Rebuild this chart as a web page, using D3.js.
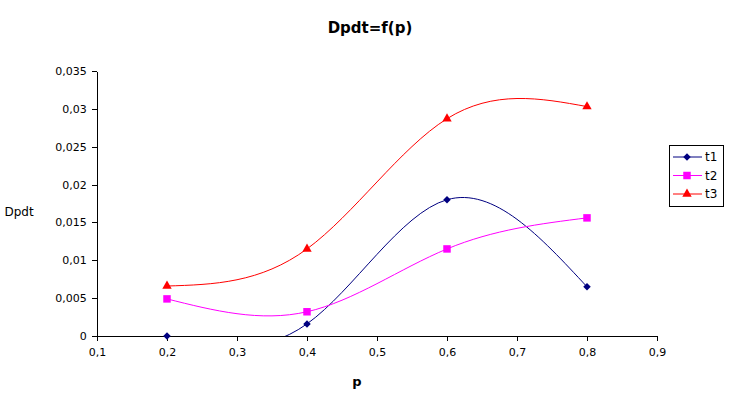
<!DOCTYPE html>
<html>
<head>
<meta charset="utf-8">
<script src="https://cdn.jsdelivr.net/npm/d3@7"></script>
<style>
  body { margin: 0; background: #fff; }
  text { font-family: "DejaVu Sans", sans-serif; fill: #000; }
</style>
</head>
<body>
<div class="chart"></div>
<script>
const pValues = [0.2, 0.4, 0.6, 0.8];
const t1 = [0, 0.0016, 0.0180, 0.0065];
const t2 = [0.0049, 0.0032, 0.0115, 0.0156];
const t3 = [0.0066, 0.0115, 0.0287, 0.0303];
const seriesNames = ["t1", "t2", "t3"];
const seriesColors = ["#000080", "#FF00FF", "#FF0000"];
const xTicks = [0.1, 0.2, 0.3, 0.4, 0.5, 0.6, 0.7, 0.8, 0.9];
const yTicks = [0, 0.005, 0.01, 0.015, 0.02, 0.025, 0.03, 0.035];

const width = 741, height = 396;
const plot = { left: 97, right: 657, top: 71, bottom: 336 };
const fmt = (d) => String(d).replace(".", ",");

const x = d3.scaleLinear().domain([0.1, 0.9]).range([plot.left, plot.right]);
const y = d3.scaleLinear().domain([0, 0.035]).range([plot.bottom, plot.top]);

const svg = d3.select(".chart").append("svg")
  .attr("width", width)
  .attr("height", height);

svg.append("defs").append("clipPath")
  .attr("id", "plotClip")
  .append("rect")
  .attr("x", plot.left)
  .attr("y", plot.top)
  .attr("width", plot.right - plot.left)
  .attr("height", plot.bottom - plot.top);

// title + axis labels
svg.append("text")
  .attr("x", 370).attr("y", 33)
  .attr("text-anchor", "middle")
  .style("font-size", "15px").style("font-weight", "bold")
  .text("Dpdt=f(p)");

svg.append("text")
  .attr("x", 357).attr("y", 386)
  .attr("text-anchor", "middle")
  .style("font-size", "13px").style("font-weight", "bold")
  .text("p");

svg.append("text")
  .attr("x", 19).attr("y", 216)
  .attr("text-anchor", "middle")
  .style("font-size", "12px")
  .text("Dpdt");

// axes
const xAxis = d3.axisBottom(x).tickValues(xTicks).tickFormat(fmt).tickSize(5).tickSizeOuter(0);
const yAxis = d3.axisLeft(y).tickValues(yTicks).tickFormat(fmt).tickSize(5).tickSizeOuter(0);

const gx = svg.append("g")
  .attr("transform", `translate(0,${plot.bottom})`)
  .call(xAxis);
gx.selectAll("text").attr("dy", "1.1em").style("font-size", "11px");

const gy = svg.append("g")
  .attr("transform", `translate(${plot.left},0)`)
  .call(yAxis);
gy.selectAll("text").attr("dx", "-0.2em").style("font-size", "11px");

svg.selectAll(".domain, .tick line").attr("stroke", "#000").attr("shape-rendering", "crispEdges");

// series - natural cubic spline, like the source chart's smoothing
const allSeries = [t1, t2, t3];
const line = d3.line()
  .x((d, i) => x(pValues[i]))
  .y((d) => y(d))
  .curve(d3.curveNatural);

const symbols = [d3.symbolDiamond2, d3.symbolSquare, d3.symbolTriangle];
const symbolSizes = [36, 56, 38];

allSeries.forEach((vals, s) => {
  svg.append("path")
    .datum(vals)
    .attr("clip-path", "url(#plotClip)")
    .attr("fill", "none")
    .attr("stroke", seriesColors[s])
    .attr("stroke-width", 1)
    .attr("d", line);

  svg.selectAll(`.mark${s}`)
    .data(vals)
    .enter().append("path")
    .attr("class", `mark${s}`)
    .attr("transform", (d, i) => `translate(${x(pValues[i])},${y(d)})`)
    .attr("fill", seriesColors[s])
    .attr("d", d3.symbol().type(symbols[s]).size(symbolSizes[s]));
});

// legend
const legend = svg.append("g");
legend.append("rect")
  .attr("x", 669.5).attr("y", 145.5)
  .attr("width", 54).attr("height", 61)
  .attr("fill", "#fff").attr("stroke", "#000");

seriesNames.forEach((name, s) => {
  const ly = 157 + s * 18.5;
  legend.append("line")
    .attr("x1", 673).attr("x2", 702)
    .attr("y1", ly).attr("y2", ly)
    .attr("stroke", seriesColors[s]);
  legend.append("path")
    .attr("transform", `translate(687,${ly})`)
    .attr("fill", seriesColors[s])
    .attr("d", d3.symbol().type(symbols[s]).size(symbolSizes[s]));
  legend.append("text")
    .attr("x", 705).attr("y", ly + 4)
    .style("font-size", "12px")
    .text(name);
});
</script>
</body>
</html>
